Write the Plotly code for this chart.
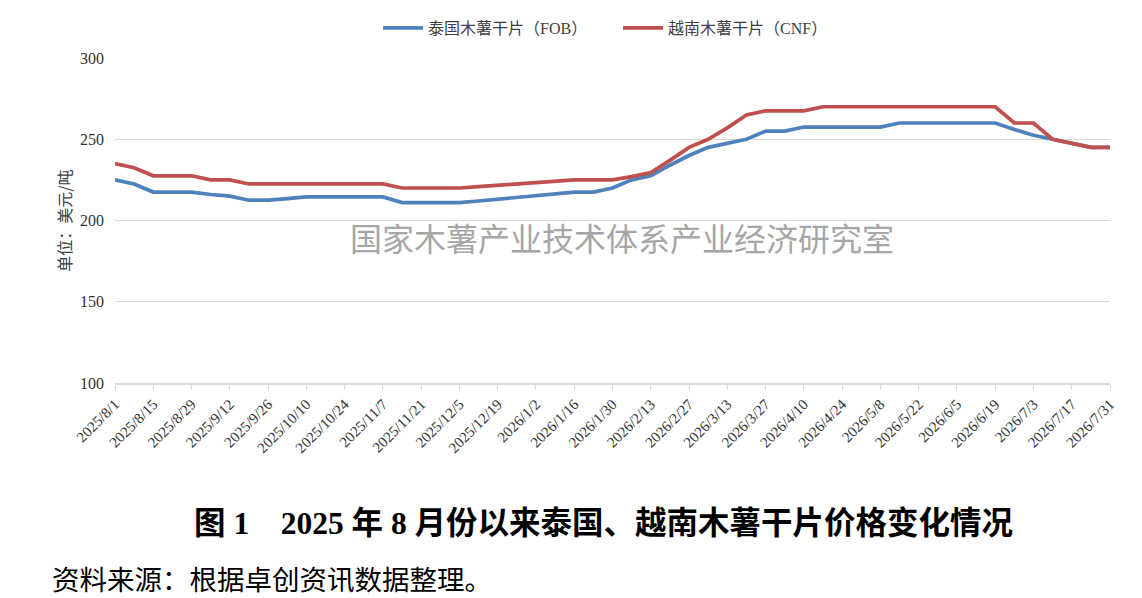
import plotly.graph_objects as go
import pandas as pd

dates = pd.date_range("2025-08-01", "2026-07-31", freq="7D")
date_str = [d.strftime("%Y-%m-%d") for d in dates]

thai_fob = [225, 222.5, 217.5, 217.5, 217.5, 216, 215, 212.5, 212.5, 213.5,
            214.5, 214.5, 214.5, 214.5, 214.5, 211, 211, 211, 211, 212,
            213, 214, 215.5, 216.5, 217.5, 217.5, 220, 225, 227.5, 234,
            240, 245, 247.5, 250, 255, 255, 257.5, 257.5, 257.5, 257.5,
            257.5, 260, 260, 260, 260, 260, 260, 256, 252.5, 250,
            247.5, 245, 245]

vn_cnf = [235, 232.5, 227.5, 227.5, 227.5, 225, 225, 222.5, 222.5, 222.5,
          222.5, 222.5, 222.5, 222.5, 222.5, 220, 220, 220, 220, 220.8,
          221.7, 222.5, 223.3, 224.2, 225, 225, 225, 227, 229.5, 237,
          245, 250, 257, 265, 267.5, 267.5, 267.5, 270, 270, 270,
          270, 270, 270, 270, 270, 270, 270, 260, 260, 250,
          247.5, 245, 245]

tick_dates = dates[::2]
tick_vals = [d.strftime("%Y-%m-%d") for d in tick_dates]
tick_text = [f"{d.year}/{d.month}/{d.day}" for d in tick_dates]

y_ticks = [100, 150, 200, 250, 300]

series_names = ["泰国木薯干片（FOB）", "越南木薯干片（CNF）"]
series_colors = ["#4F81BD", "#C0504D"]

SERIF = "Liberation Serif, Noto Sans CJK SC"

# plot area in figure coordinates (page has an 8px body offset)
L, R, T, B = 107, 1102, 50, 375
PW, PH = R - L, B - T

fig = go.Figure()
for name, vals, col in zip(series_names, [thai_fob, vn_cnf], series_colors):
    fig.add_trace(go.Scatter(x=date_str, y=vals, mode="lines", name=name,
                             line=dict(color=col, width=3.7)))

fig.update_layout(
    width=1142, height=598,
    margin=dict(l=L, r=1142 - R, t=T, b=598 - B, autoexpand=False),
    paper_bgcolor="white", plot_bgcolor="white",
    font=dict(family=SERIF, size=13, color="#333333"),
    showlegend=True,
    legend=dict(orientation="h", xref="container", yref="container",
                x=(606 + 4) / 1142, xanchor="center", y=1 - 20 / 598, yanchor="middle",
                font=dict(size=16, family=SERIF, color="#404040"),
                itemwidth=40, entrywidth=185),
    xaxis=dict(type="date", range=["2025-08-01", "2026-07-31"],
               tickmode="array", tickvals=tick_vals, ticktext=tick_text,
               tickangle=-45, tickfont=dict(size=15, family=SERIF, color="#333333"),
               showgrid=False, showline=True, linecolor="#D9D9D9", linewidth=1.5,
               ticks="outside", ticklen=5, tickcolor="#D9D9D9", zeroline=False),
    yaxis=dict(range=[100, 300], tickvals=y_ticks,
               tickfont=dict(size=16, family=SERIF, color="#333333"),
               showgrid=True, gridcolor="#D9D9D9", gridwidth=1.2,
               showline=False, zeroline=False, ticks="", ticklabelstandoff=10,
               title=dict(text="单位：美元/吨", standoff=4,
                          font=dict(size=16, family="Noto Sans CJK SC", color="#404040"))),
)

fig.add_annotation(text="国家木薯产业技术体系产业经济研究室", xref="paper", yref="paper",
                   x=(614 - L) / PW, y=(B - 229) / PH, showarrow=False,
                   font=dict(size=32, family="Noto Sans CJK SC", color="#A6A6A6"))

fig.add_annotation(text="<b>图 1　2025 年 8 月份以来泰国、越南木薯干片价格变化情况</b>",
                   xref="paper", yref="paper", x=(595 - L) / PW, y=(B - 515) / PH,
                   xanchor="center", yanchor="middle", showarrow=False,
                   font=dict(size=31.5, family=SERIF, color="#000000"))

fig.add_annotation(text="资料来源：根据卓创资讯数据整理。", xref="paper", yref="paper",
                   x=(42 - L) / PW, y=(B - 570) / PH, xanchor="left", yanchor="middle",
                   showarrow=False, font=dict(size=27.5, family="Noto Sans CJK SC", color="#000000"))

fig.write_html("out.html")
